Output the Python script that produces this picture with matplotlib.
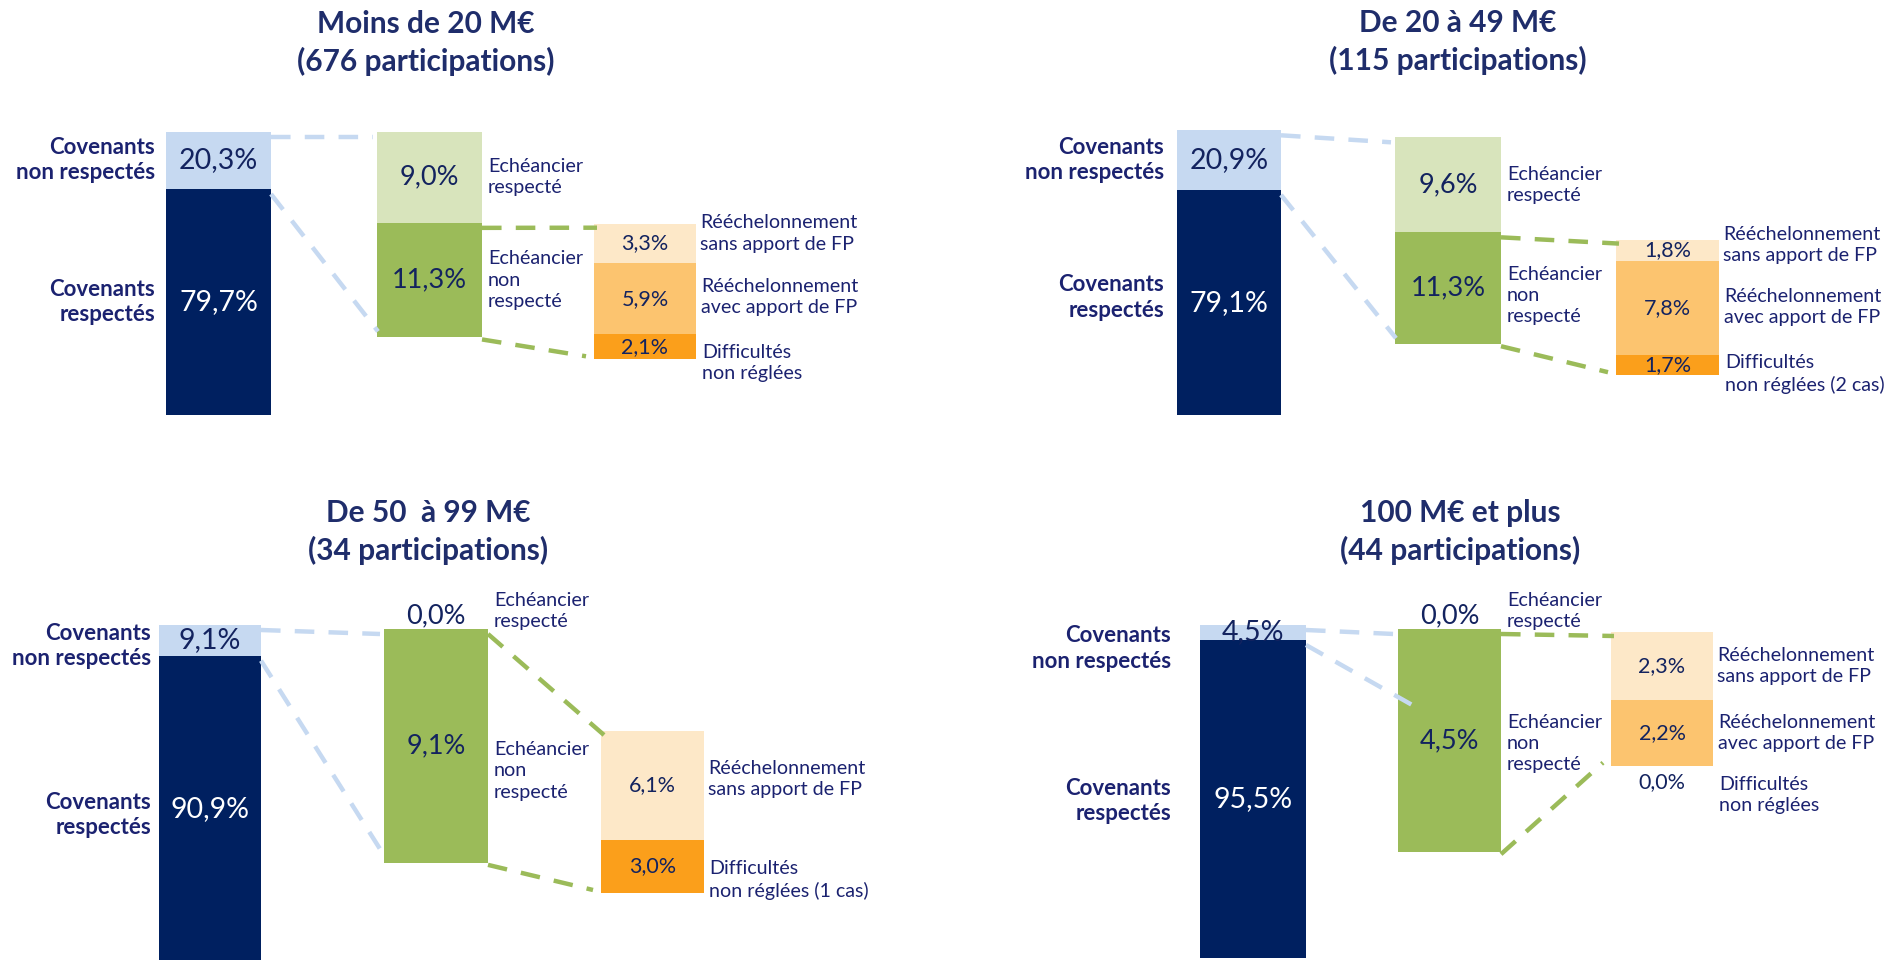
import matplotlib.pyplot as plt

# --- data -------------------------------------------------------------
TITLES = [
    "Moins de 20 M€\n(676 participations)",
    "De 20 à 49 M€\n(115 participations)",
    "De 50  à 99 M€\n(34 participations)",
    "100 M€ et plus\n(44 participations)",
]
COVENANT_LABELS = ["Covenants\nnon respectés", "Covenants\nrespectés"]
COVENANT_VALUES = [[20.3, 79.7], [20.9, 79.1], [9.1, 90.9], [4.5, 95.5]]

SCHEDULE_LABELS = ["Echéancier\nrespecté", "Echéancier\nnon\nrespecté"]
SCHEDULE_VALUES = [[9.0, 11.3], [9.6, 11.3], [0.0, 9.1], [0.0, 4.5]]

OUTCOME_LABELS = [
    ["Rééchelonnement\nsans apport de FP", "Rééchelonnement\navec apport de FP", "Difficultés\nnon réglées"],
    ["Rééchelonnement\nsans apport de FP", "Rééchelonnement\navec apport de FP", "Difficultés\nnon réglées (2 cas)"],
    ["Rééchelonnement\nsans apport de FP", "Difficultés\nnon réglées (1 cas)"],
    ["Rééchelonnement\nsans apport de FP", "Rééchelonnement\navec apport de FP", "Difficultés\nnon réglées"],
]
OUTCOME_VALUES = [[3.3, 5.9, 2.1], [1.8, 7.8, 1.7], [6.1, 3.0], [2.3, 2.2, 0.0]]

# --- style / layout (pixel space, y downwards) ------------------------
NAVY = "#002060"
TXT = "#13235F"
LBL = "#1B2270"
TITLE_C = "#1F2D6B"
COV_COLORS = ["#C6D9F1", NAVY]
SCH_COLORS = ["#D8E4BC", "#9BBB59"]
BLUE_LINE = "#C6D9F1"
GREEN_LINE = "#9BBB59"
FONT = "Lato"

LAYOUT = [
    dict(title=(426, 43), x=(166, 377, 594), w=(105, 105, 102), top=(131.6, 131.6, 223.7),
         scale=(2.83, 10.14, 12.0), cov_gap=11, cov_dy=(0, 0), sch_dy=(0, 0), out_dy=(-10, -2, 16)),
    dict(title=(1458, 42), x=(1177, 1395, 1616), w=(104, 106, 103), top=(130.3, 137.3, 239.6),
         scale=(2.85, 9.9, 12.0), cov_gap=13, cov_dy=(0, -5), sch_dy=(0, 7), out_dy=(-5, -1, 9)),
    dict(title=(428, 532), x=(159, 384, 601), w=(102, 104, 103), top=(625, 629, 731),
         scale=(3.37, 25.7, 17.8), cov_gap=8, cov_dy=(6, 6), sch_dy=(-18, 25), out_dy=(-6, 14)),
    dict(title=(1460, 532), x=(1200, 1398, 1611), w=(106, 103, 102), top=(625, 629, 632),
         scale=(3.33, 49.6, 29.7), cov_gap=29, cov_dy=(16, 2), sch_dy=(-18, 3), out_dy=(0, 0, 29),
         blue_low=(14, 0.34)),
]


def outcome_color(label):
    if "sans" in label:
        return "#FDE8C8"
    if "avec" in label:
        return "#FCC46F"
    return "#FB9F1B"


def pct(v):
    return f"{v:.1f}%".replace(".", ",")


def stack(ax, x, w, top, scale, values, colors):
    """Draw a vertical stack, return list of (y_top, y_bottom) per segment."""
    segs = []
    y = top
    for v, c in zip(values, colors):
        h = v * scale
        ax.bar(x, h, w, bottom=y, align="edge", color=c, linewidth=0)
        segs.append((y, y + h))
        y += h
    return segs


def dashed(ax, p0, p1, color):
    ax.plot([p0[0], p1[0]], [p0[1], p1[1]], color=color, lw=3.2,
            dashes=(4.4, 3.2), solid_capstyle="butt", dash_capstyle="butt")


def draw_panel(ax, i):
    L = LAYOUT[i]
    x0, x1, x2 = L["x"]
    w0, w1, w2 = L["w"]
    t0, t1, t2 = L["top"]
    s0, s1, s2 = L["scale"]

    ax.text(L["title"][0], L["title"][1], TITLES[i], ha="center", va="center",
            fontsize=21.5, fontweight="bold", color=TITLE_C, family=FONT, linespacing=1.35)

    # level 1: covenants
    cov = stack(ax, x0, w0, t0, s0, COVENANT_VALUES[i], COV_COLORS)
    for k, ((ya, yb), v) in enumerate(zip(cov, COVENANT_VALUES[i])):
        yc = (ya + yb) / 2
        ax.text(x0 + w0 / 2, yc, pct(v), ha="center", va="center",
                fontsize=20.5, color="white" if k == 1 else TXT, family=FONT)
        ax.text(x0 - L["cov_gap"], yc + L["cov_dy"][k], COVENANT_LABELS[k], ha="right", va="center",
                fontsize=16, fontweight="bold", color=LBL, family=FONT, linespacing=1.25)

    # level 2: schedule
    sch = stack(ax, x1, w1, t1, s1, SCHEDULE_VALUES[i], SCH_COLORS)
    for k, ((ya, yb), v) in enumerate(zip(sch, SCHEDULE_VALUES[i])):
        yc = (ya + yb) / 2
        yv = yc - 13 if v == 0 else yc
        ax.text(x1 + w1 / 2, yv, pct(v), ha="center", va="center",
                fontsize=19.5, color=TXT, family=FONT)
        ax.text(x1 + w1 + 6, yc + L["sch_dy"][k], SCHEDULE_LABELS[k], ha="left", va="center",
                fontsize=14.2, color=LBL, family=FONT, linespacing=1.3)

    # level 3: outcomes of the non-respected schedule
    labels = OUTCOME_LABELS[i]
    out = stack(ax, x2, w2, t2, s2, OUTCOME_VALUES[i], [outcome_color(l) for l in labels])
    for k, ((ya, yb), v) in enumerate(zip(out, OUTCOME_VALUES[i])):
        yc = (ya + yb) / 2
        yv = yc + 16 if v == 0 else yc
        ax.text(x2 + w2 / 2, yv, pct(v), ha="center", va="center",
                fontsize=15.5, color=TXT, family=FONT)
        ax.text(x2 + w2 + 4 + k, yc + L["out_dy"][k], labels[k], ha="left", va="center",
                fontsize=14.1, color=LBL, family=FONT, linespacing=1.3)

    # connectors
    dashed(ax, (x0 + w0, t0 + 5), (x1 - 4, t1 + 5), BLUE_LINE)
    b1 = sch[-1][1]
    if "blue_low" in L:
        dx, frac = L["blue_low"]
        end = (x1 + dx, t1 + frac * (b1 - t1))
    else:
        end = (x1 + 1, b1 - 6)
    dashed(ax, (x0 + w0, cov[0][1] + 5), end, BLUE_LINE)
    dashed(ax, (x1 + w1, sch[0][1] + 5), (x2 + 3, t2 + 4), GREEN_LINE)
    dashed(ax, (x1 + w1, b1 + 2), (x2 - 8, out[-1][1] - 3), GREEN_LINE)


fig = plt.figure(figsize=(18.87, 9.6), dpi=100)
ax = fig.add_axes([0, 0, 1, 1])
ax.set_xlim(0, 1887)
ax.set_ylim(960, 0)
ax.axis("off")

for i in range(4):
    draw_panel(ax, i)

fig.savefig("out.png", dpi=100, facecolor="white")
